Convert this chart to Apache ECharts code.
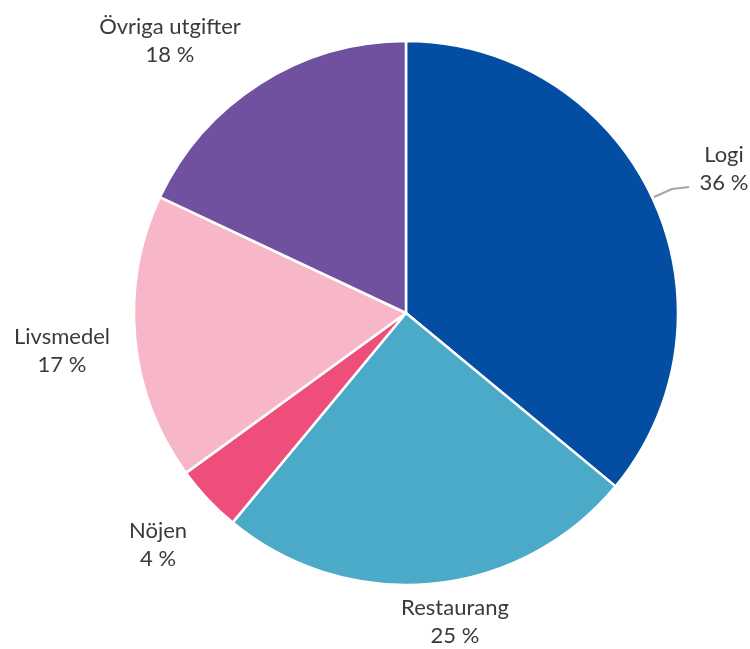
<!DOCTYPE html>
<html>
<head>
<meta charset="utf-8">
<script src="https://cdn.jsdelivr.net/npm/echarts@6/dist/echarts.min.js"></script>
<style>
  html, body { margin: 0; padding: 0; background: #fff; }
  #chart { width: 750px; height: 649px; }
</style>
</head>
<body>
<div id="chart"></div>
<script>
// kategorier och andelar (procent), medurs från kl 12
var categories = ["Logi", "Restaurang", "Nöjen", "Livsmedel", "Övriga utgifter"];
var shares = [36, 25, 4, 17, 18];
var colors = ["#034ea2", "#4aaac8", "#ee4e7a", "#f7b7c8", "#6f51a0"];

// etiketternas mittpunkter (layout)
var labelPos = [[724, 169], [455, 622], [158, 545], [62, 351], [170, 41]];

var chart = echarts.init(document.getElementById("chart"));

var data = categories.map(function (name, i) {
  return {
    name: name,
    value: shares[i],
    itemStyle: { color: colors[i] },
    labelLine: { show: i === 0 }
  };
});

chart.setOption({
  animation: false,
  series: [
    {
      type: "pie",
      center: [406, 313],
      radius: 272,
      startAngle: 90,
      clockwise: true,
      data: data,
      itemStyle: { borderColor: "#fff", borderWidth: 2.5 },
      label: {
        show: true,
        position: "outside",
        formatter: function (p) { return p.name + "\n" + p.value + " %"; },
        fontFamily: "Lato, 'Open Sans', sans-serif",
        fontSize: 22,
        lineHeight: 28,
        color: "#3a3a3a",
        align: "center",
        overflow: "none",
        width: 200
      },
      labelLine: {
        length: 12,
        length2: 20,
        lineStyle: { color: "#a6a6a6", width: 2 }
      },
      labelLayout: function (params) {
        var p = labelPos[params.dataIndex];
        var res = {
          x: p[0],
          y: p[1],
          align: "center",
          verticalAlign: "middle"
        };
        if (params.dataIndex === 0) {
          res.labelLinePoints = [[654, 197], [672, 189], [689, 187]];
        }
        return res;
      }
    }
  ]
});
</script>
</body>
</html>
